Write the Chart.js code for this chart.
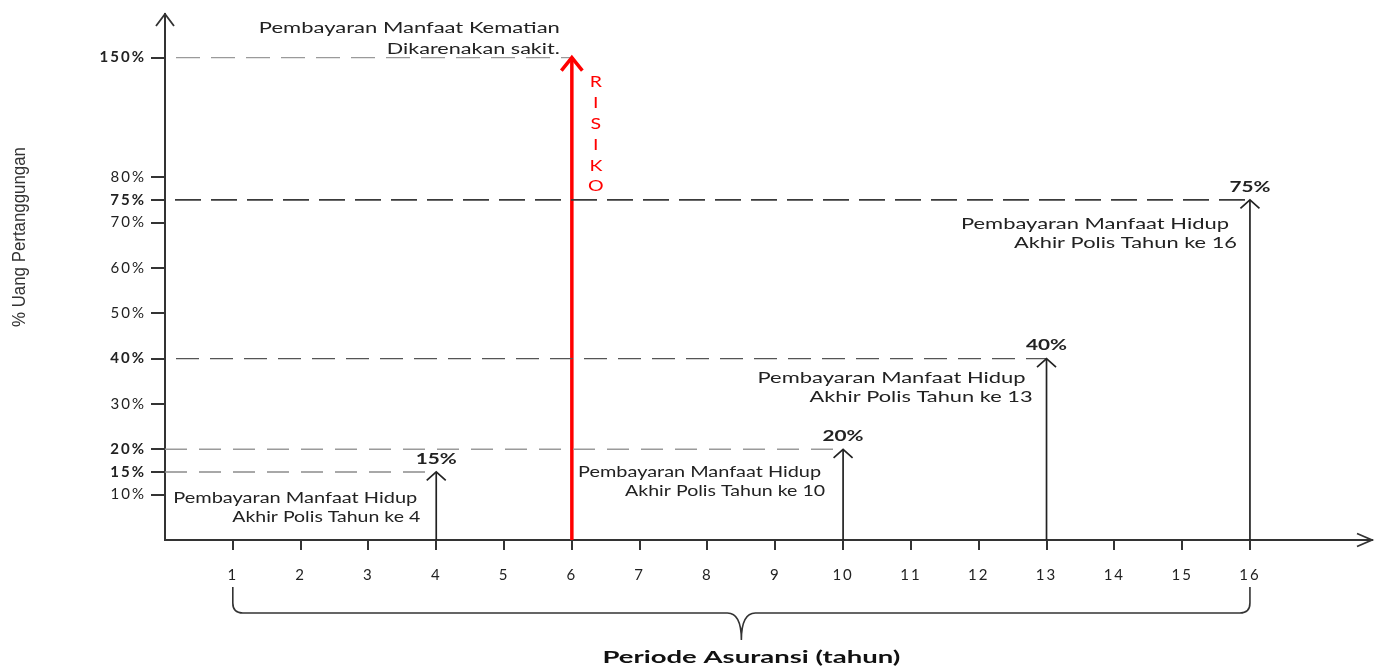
<!DOCTYPE html>
<html>
<head>
<meta charset="utf-8">
<title>Manfaat Asuransi</title>
<script src="https://cdn.jsdelivr.net/npm/chart.js@4.4.1/dist/chart.umd.min.js"></script>
<style>
  html, body { margin: 0; padding: 0; background: #fff; }
  #wrap { width: 1375px; height: 667px; }
</style>
</head>
<body>
<div id="wrap"><canvas id="benefitChart"></canvas></div>
<script>
// data
const YEARS = [1, 2, 3, 4, 5, 6, 7, 8, 9, 10, 11, 12, 13, 14, 15, 16];
const Y_TICKS = [10, 15, 20, 30, 40, 50, 60, 70, 75, 80, 150];
const BOLD_TICKS = [15, 20, 40, 75, 150];
const BENEFIT_YEARS = [4, 10, 13, 16];
const BENEFIT_PCT = [15, 20, 40, 75];
const BENEFIT_TEXT = ["Akhir Polis Tahun ke 4", "Akhir Polis Tahun ke 10", "Akhir Polis Tahun ke 13", "Akhir Polis Tahun ke 16"];
const BENEFIT_TITLE = "Pembayaran Manfaat Hidup";
const DEATH_YEAR = 6;
const DEATH_PCT = 150;
const DEATH_TEXT = ["Pembayaran Manfaat Kematian", "Dikarenakan sakit."];
const RISK_WORD = "RISIKO";
const X_TITLE = "Periode Asuransi (tahun)";
const Y_TITLE = "% Uang Pertanggungan";

// y axis is squeezed above 80%
const BREAK_AT = 80;
const SQUEEZE = 0.377;

class BrokenLinearScale extends Chart.LinearScale {
  static id = "brokenLinear";
  static defaults = Chart.LinearScale.defaults;
  squash(v) { return v <= BREAK_AT ? v : BREAK_AT + (v - BREAK_AT) * SQUEEZE; }
  unsquash(v) { return v <= BREAK_AT ? v : BREAK_AT + (v - BREAK_AT) / SQUEEZE; }
  getPixelForValue(v) { return super.getPixelForValue(this.squash(v)); }
  getValueForPixel(p) { return this.unsquash(super.getValueForPixel(p)); }
}
Chart.register(BrokenLinearScale);

// looks only
const REF_STYLE = [
  { color: "#8c8c8c", width: 1.4, dash: [22, 12], offset: 0 },
  { color: "#9a9a9a", width: 1.4, dash: [22, 12], offset: 0 },
  { color: "#555", width: 1.4, dash: [23, 11], offset: 23 },
  { color: "#3a3a3a", width: 1.8, dash: [26, 10], offset: 26 }
];
const DEATH_STYLE = { color: "#9a9a9a", width: 1.2, dash: [24, 11], offset: 24 };
// [rightDx, dy, width] for the two text lines, relative to the arrow tip
const NOTE_POS = [
  [[-19, 26, 244], [-16, 45, 188]],
  [[-22, 23, 243], [-18, 42, 200]],
  [[-21, 20, 268], [-14, 39, 223]],
  [[-21, 24, 268], [-13, 43, 223]]
];
const DEATH_POS = [[-12, -29, 301], [-12, -8, 173]];

const datasets = [];
BENEFIT_PCT.forEach((p, i) => {
  const s = REF_STYLE[i];
  datasets.push({
    data: [{ x: 0, y: p }, { x: BENEFIT_YEARS[i], y: p }],
    showLine: true, pointRadius: 0, borderColor: s.color, borderWidth: s.width,
    borderDash: s.dash, borderDashOffset: s.offset
  });
});
datasets.push({
  data: [{ x: 0, y: DEATH_PCT }, { x: DEATH_YEAR, y: DEATH_PCT }],
  showLine: true, pointRadius: 0, borderColor: DEATH_STYLE.color, borderWidth: DEATH_STYLE.width,
  borderDash: DEATH_STYLE.dash, borderDashOffset: DEATH_STYLE.offset
});
BENEFIT_YEARS.forEach((yr, i) => {
  datasets.push({
    data: [{ x: yr, y: 0 }, { x: yr, y: BENEFIT_PCT[i] }],
    showLine: true, pointRadius: 0, borderColor: "#222", borderWidth: 1.7
  });
});
datasets.push({
  data: [{ x: DEATH_YEAR, y: 0 }, { x: DEATH_YEAR, y: DEATH_PCT }],
  showLine: true, pointRadius: 0, borderColor: "#ff0000", borderWidth: 3.5
});

function stretchText(ctx, text, x, y, width, align) {
  const natural = ctx.measureText(text).width;
  const left = align === "right" ? x - width : align === "center" ? x - width / 2 : x;
  ctx.save();
  ctx.translate(left, y);
  ctx.scale(width / natural, 1);
  ctx.textAlign = "left";
  ctx.fillText(text, 0, 0);
  ctx.restore();
}

function chevronUp(ctx, px, py, half, h) {
  ctx.beginPath();
  ctx.moveTo(px - half, py + h);
  ctx.lineTo(px, py);
  ctx.lineTo(px + half, py + h);
  ctx.stroke();
}

const overlay = {
  id: "overlay",
  beforeDraw(chart) { chart.ctx.letterSpacing = "2px"; },
  afterDatasetsDraw(chart) {
    const { ctx, chartArea: a } = chart;
    const x = chart.scales.x, y = chart.scales.y;
    ctx.save();
    ctx.letterSpacing = "0px";
    ctx.lineJoin = "miter";
    ctx.textBaseline = "middle";

    // axis arrow heads
    ctx.strokeStyle = "#333";
    ctx.lineWidth = 1.8;
    chevronUp(ctx, a.left, a.top, 9, 12);
    ctx.beginPath();
    ctx.moveTo(a.right - 15, a.bottom - 6.5);
    ctx.lineTo(a.right, a.bottom);
    ctx.lineTo(a.right - 15, a.bottom + 6.5);
    ctx.stroke();

    // benefit arrows, labels and notes
    BENEFIT_YEARS.forEach((yr, i) => {
      const px = x.getPixelForValue(yr), py = y.getPixelForValue(BENEFIT_PCT[i]);
      ctx.strokeStyle = "#222";
      ctx.lineWidth = 1.7;
      chevronUp(ctx, px, py, 9.5, 8.5);
      ctx.fillStyle = "#222";
      ctx.font = "bold 15px Lato";
      stretchText(ctx, BENEFIT_PCT[i] + "%", px, py - 13, 41, "center");
      ctx.font = "15px Lato";
      ctx.fillStyle = "#222";
      const lines = [BENEFIT_TITLE, BENEFIT_TEXT[i]];
      NOTE_POS[i].forEach((p, j) => stretchText(ctx, lines[j], px + p[0], py + p[1], p[2], "right"));
    });

    // death benefit
    const rx = x.getPixelForValue(DEATH_YEAR), ry = y.getPixelForValue(DEATH_PCT);
    ctx.strokeStyle = "#ff0000";
    ctx.lineWidth = 3.5;
    chevronUp(ctx, rx, ry, 10.5, 13);
    ctx.fillStyle = "#222";
    ctx.font = "15px Lato";
    DEATH_POS.forEach((p, j) => stretchText(ctx, DEATH_TEXT[j], rx + p[0], ry + p[1], p[2], "right"));
    ctx.fillStyle = "#ff0000";
    ctx.font = "15px Lato";
    RISK_WORD.split("").forEach((ch, i) => {
      const w = ctx.measureText(ch).width * 1.3;
      stretchText(ctx, ch, rx + 24, ry + 25 + i * 20.8, w, "center");
    });

    // brace under the years
    const x1 = x.getPixelForValue(YEARS[0]), x2 = x.getPixelForValue(YEARS[YEARS.length - 1]);
    const cx = (x1 + x2) / 2;
    const top = a.bottom + 47, mid = a.bottom + 73, tip = a.bottom + 100;
    ctx.strokeStyle = "#333";
    ctx.lineWidth = 1.6;
    ctx.beginPath();
    ctx.moveTo(x1, top);
    ctx.lineTo(x1, mid - 10);
    ctx.quadraticCurveTo(x1, mid, x1 + 10, mid);
    ctx.lineTo(cx - 14, mid);
    ctx.quadraticCurveTo(cx, mid, cx, tip);
    ctx.quadraticCurveTo(cx, mid, cx + 14, mid);
    ctx.lineTo(x2 - 10, mid);
    ctx.quadraticCurveTo(x2, mid, x2, mid - 10);
    ctx.lineTo(x2, top);
    ctx.stroke();

    // axis titles
    ctx.fillStyle = "#111";
    ctx.font = "bold 17px Lato";
    stretchText(ctx, X_TITLE, cx + 10, a.bottom + 118, 298, "center");
    ctx.save();
    ctx.translate(a.left - 145, 237);
    ctx.rotate(-Math.PI / 2);
    ctx.fillStyle = "#333";
    ctx.font = '18px "Liberation Sans Narrow", "Liberation Sans", sans-serif';
    stretchText(ctx, Y_TITLE, 0, 0, 180, "center");
    ctx.restore();

    ctx.restore();
  }
};

new Chart(document.getElementById("benefitChart"), {
  type: "scatter",
  data: { datasets },
  options: {
    responsive: true,
    maintainAspectRatio: false,
    animation: false,
    events: [],
    layout: { padding: { top: 12, right: 3, left: 0, bottom: 0 } },
    plugins: { legend: { display: false }, tooltip: { enabled: false } },
    scales: {
      x: {
        type: "linear",
        min: 0,
        max: 17.8,
        afterBuildTicks: s => { s.ticks = YEARS.map(v => ({ value: v })); },
        afterFit: s => { s.height = 127; },
        grid: { drawOnChartArea: false, tickLength: 10, color: "#333", lineWidth: 2 },
        border: { color: "#333", width: 2 },
        ticks: {
          autoSkip: false, maxRotation: 0, padding: 16, color: "#222",
          font: { family: "Lato", size: 15 },
          callback: v => v
        }
      },
      y: {
        type: "brokenLinear",
        min: 0,
        max: 116,
        bounds: "data",
        afterBuildTicks: s => { s.ticks = Y_TICKS.map(v => ({ value: v })); },
        afterFit: s => { s.width = 165; },
        grid: { drawOnChartArea: false, tickLength: 14, color: "#333", lineWidth: 2 },
        border: { color: "#333", width: 2 },
        ticks: {
          autoSkip: false, padding: 5, color: "#222",
          font: ctx => ({
            family: "Lato", size: 15,
            weight: ctx.tick && BOLD_TICKS.includes(ctx.tick.value) ? "bold" : "normal"
          }),
          callback: v => v + "%"
        }
      }
    }
  },
  plugins: [overlay]
});
</script>
</body>
</html>
